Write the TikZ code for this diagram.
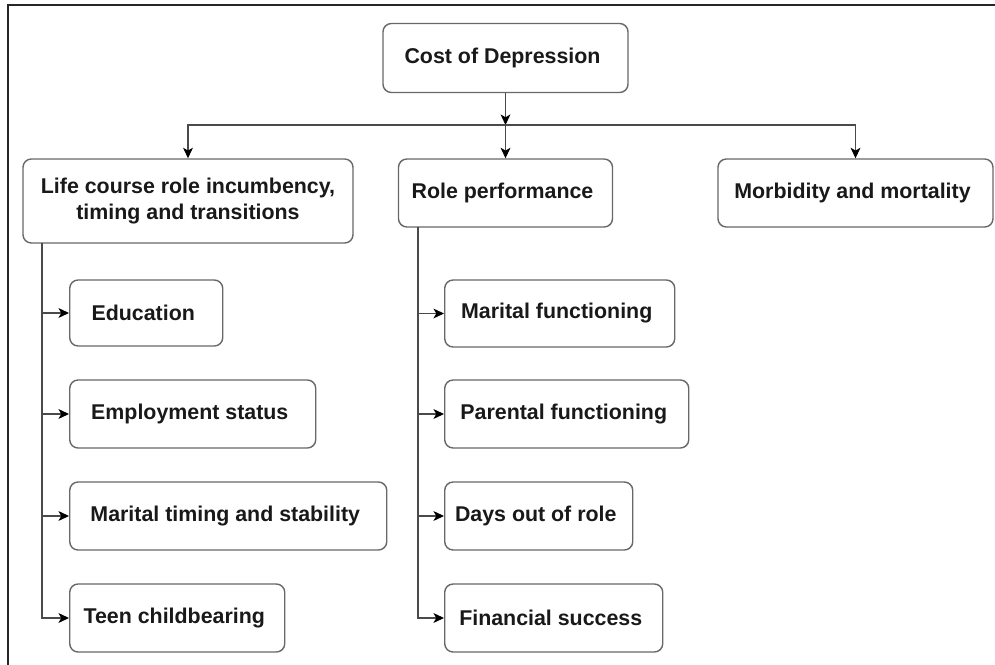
\documentclass[tikz,border=0pt]{standalone}
\usepackage{fontspec}
\setmainfont{Liberation Sans}
\usetikzlibrary{arrows.meta,positioning}
\usepackage{xcolor}
\definecolor{boxline}{HTML}{686868}
\definecolor{wire}{HTML}{4A4A4A}

\begin{document}
\begin{tikzpicture}[x=0.025cm, y=-0.025cm,
    every node/.style={
    rectangle,
    rounded corners=6pt,
    draw=boxline,
    line width=1pt,
    fill=white,
    text=black!90,
    font=\fontsize{15.2}{18}\selectfont\bfseries,
    align=center,
    minimum height=1.7cm
},
    link/.style={draw=wire, line width=0.8pt, -{Stealth[length=7.5pt,width=7pt,inset=2pt,color=black]}}]

    \useasboundingbox (0,0) rectangle (995,665);
    \draw[black!85, line width=1pt] (8,665) -- (8,5) -- (995,5);

    \node (cost) [minimum width=6.125cm, minimum height=1.725cm] at (505.5,58)
    {
        Cost of Depression
    };

    %first level

    \node (life) [minimum width=8.25cm, minimum height=2.1cm] at (188,201)
    {
        Life course role incumbency,\\ timing and transitions
    };
    \node (role) [minimum width=5.35cm] at (505.5,193)
    {
        Role performance
    };
    \node (morb) [minimum width=6.875cm] at (855.5,193)
    {
        Morbidity and mortality
    };

    %life course

    \node (education) [anchor=west, minimum width=3.825cm, minimum height=1.65cm] at (69,313)
    {
        Education
    };
    \node (employment) [anchor=west, minimum width=6.15cm] at (69,414)
    {
        Employment status
    };
    \node (marital_timing) [anchor=west, minimum width=7.925cm] at (69,516)
    {
        Marital timing and stability
    };
    \node (teen) [anchor=west, minimum width=5.375cm] at (69,618)
    {
        Teen childbearing
    };

    %role performance

    \node (marital_func) [anchor=west, minimum width=5.75cm, minimum height=1.675cm] at (444,313.5)
    {
        Marital functioning
    };
    \node (parental_func) [anchor=west, minimum width=6.1cm] at (444,414)
    {
        Parental functioning
    };
    \node (days_out) [anchor=west, minimum width=4.7cm] at (444,516)
    {
        Days out of role
    };
    \node (financial) [anchor=west, minimum width=5.45cm] at (444,618)
    {
        Financial success
    };

    \coordinate (bus) at (505.5,125);
    \coordinate (life_leg) at (42,243);
    \coordinate (role_leg) at (418,227);

    \draw[link] (cost) to (bus);
    \draw[link] (bus) -| (life);
    \draw[link] (bus) to (role);
    \draw[link] (bus) -| (morb);

    \draw[link] (life_leg) |- (education);
    \draw[link] (life_leg) |- (employment);
    \draw[link] (life_leg) |- (marital_timing);
    \draw[link] (life_leg) |- (teen);

    \draw[link] (role_leg) |- (marital_func);
    \draw[link] (role_leg) |- (parental_func);
    \draw[link] (role_leg) |- (days_out);
    \draw[link] (role_leg) |- (financial);

\end{tikzpicture}
\end{document}
